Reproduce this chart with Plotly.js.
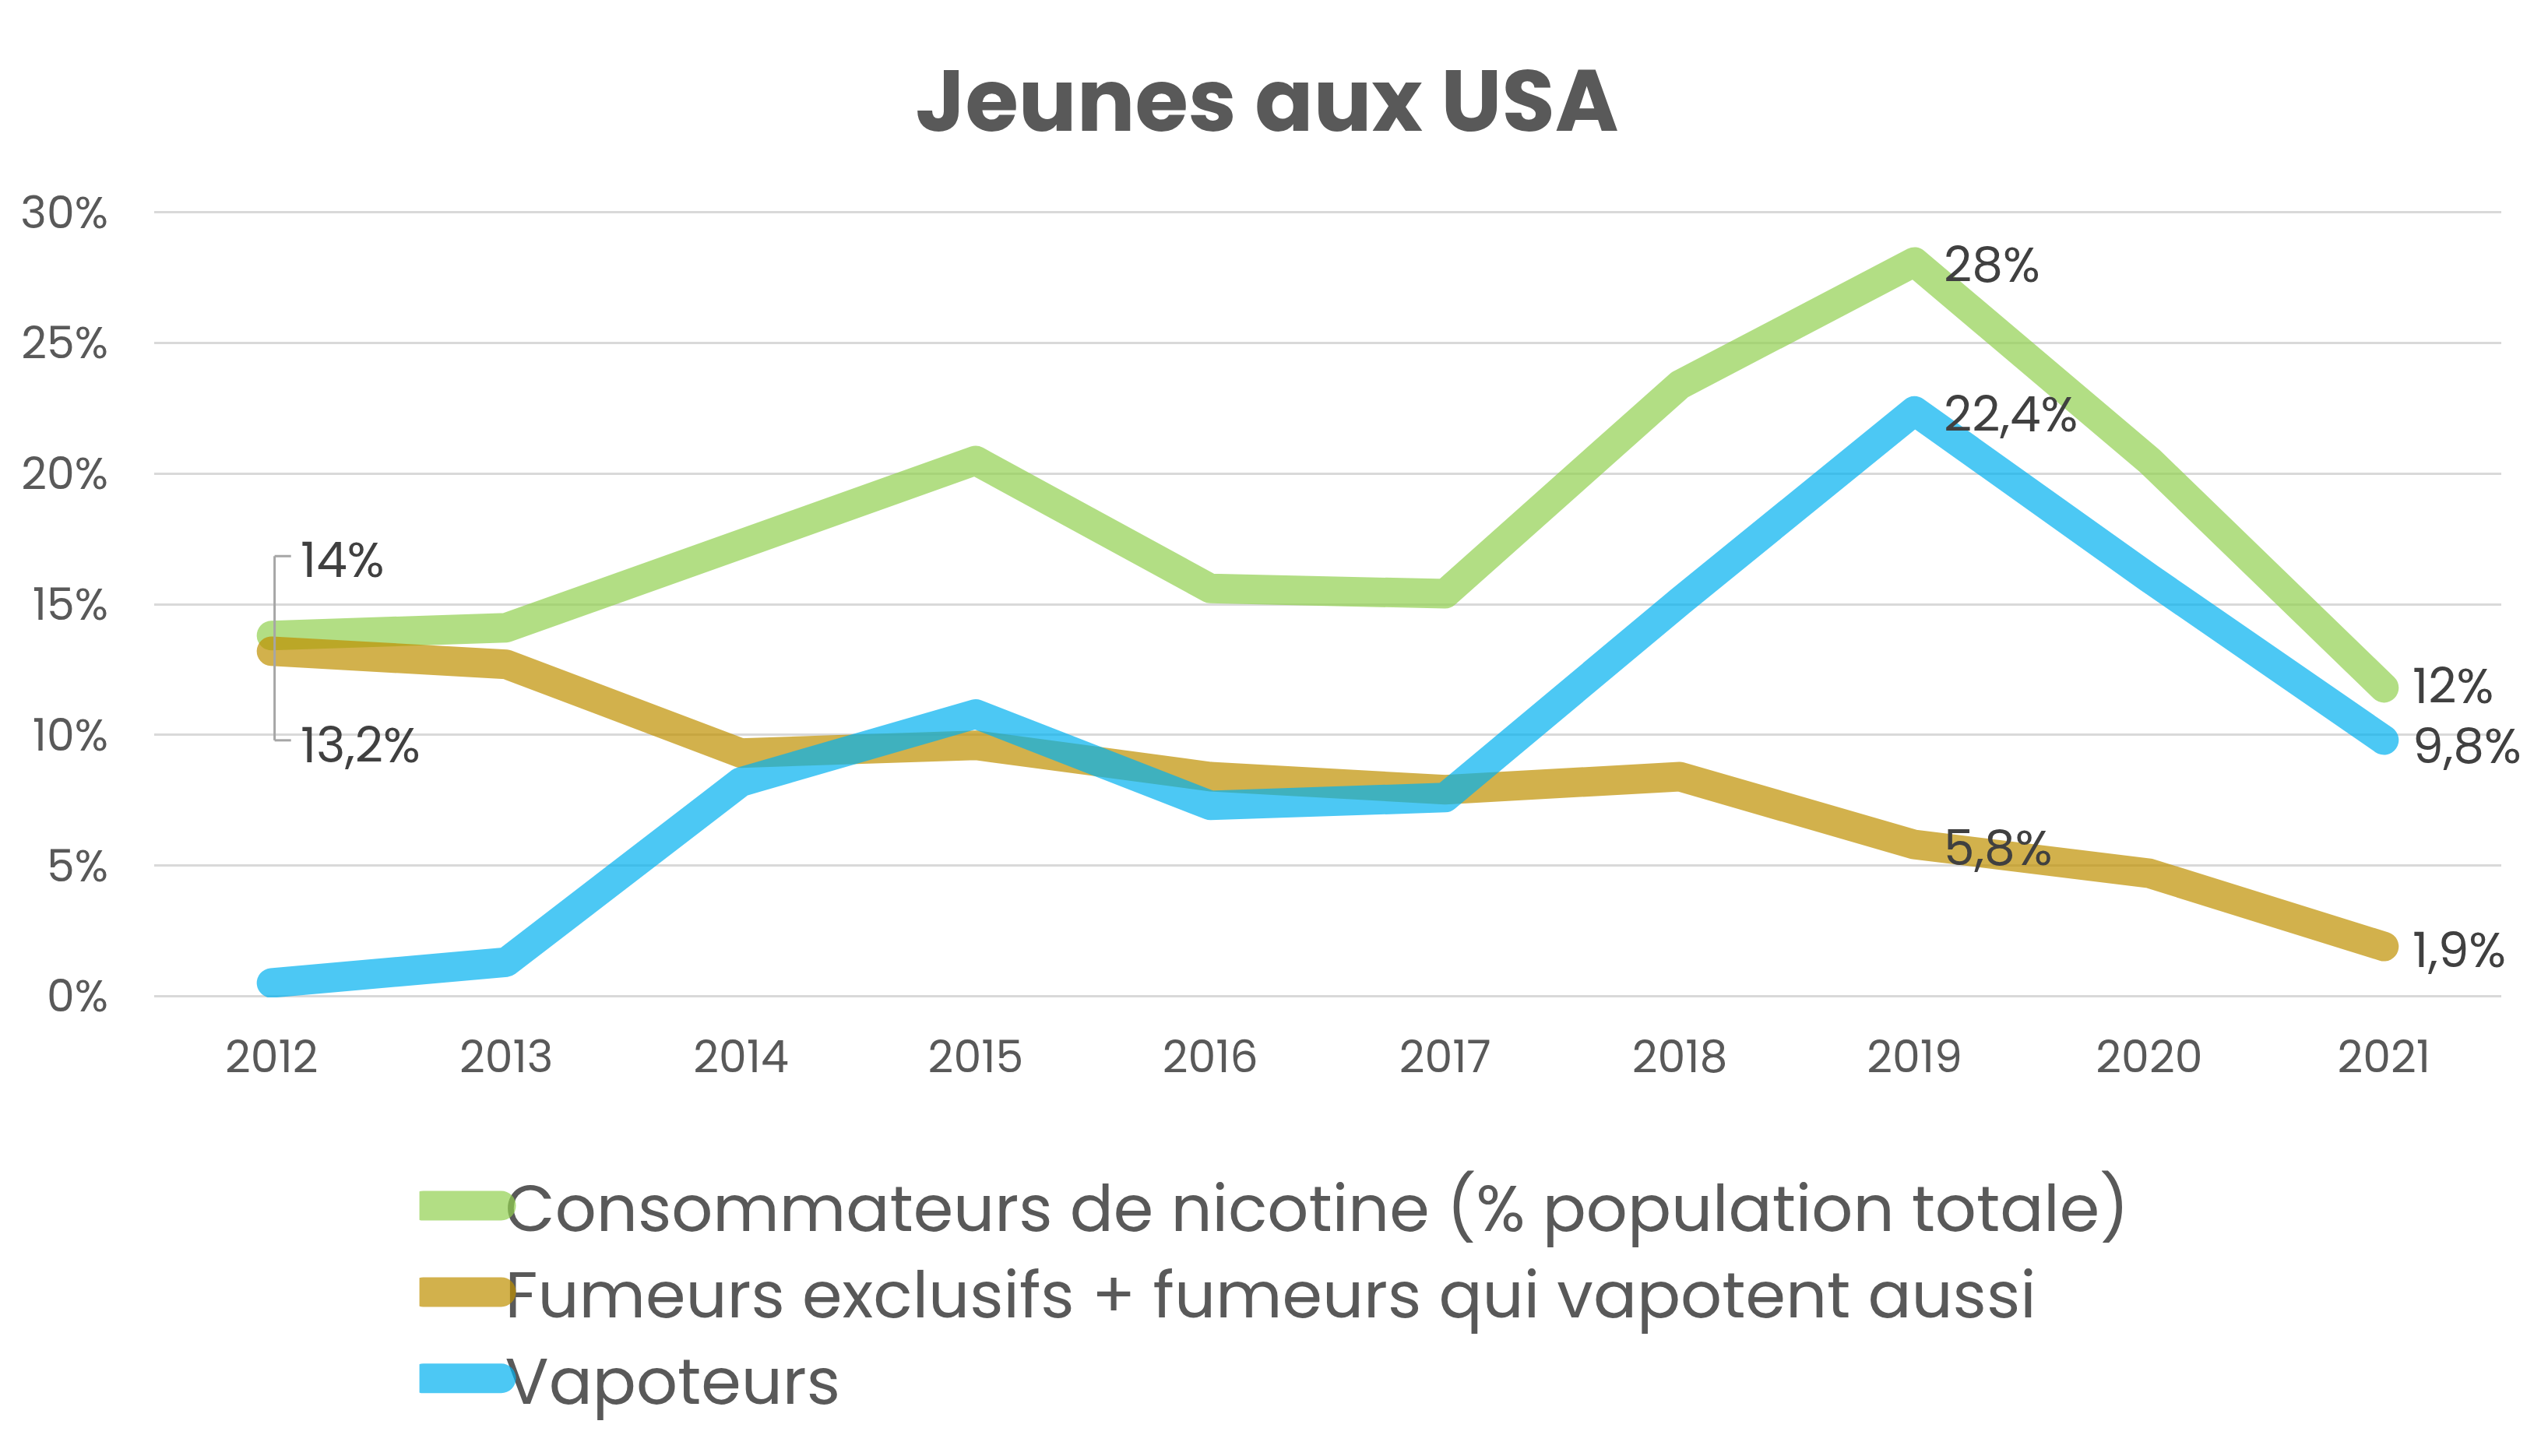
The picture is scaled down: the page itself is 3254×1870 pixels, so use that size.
<!DOCTYPE html>
<html>
<head>
<meta charset="utf-8">
<script src="https://cdn.plot.ly/plotly-3.0.1.min.js"></script>
<style>
  html, body { margin: 0; padding: 0; background: #fff; }
  #myDiv { width: 3254px; height: 1870px; }
</style>
</head>
<body>
<div id="myDiv"></div>
<script>
var years = ['2012', '2013', '2014', '2015', '2016', '2017', '2018', '2019', '2020', '2021'];
var nicotine = [13.8, 14.1, 17.3, 20.5, 15.6, 15.4, 23.4, 28.1, 20.5, 11.8];
var fumeurs = [13.2, 12.7, 9.3, 9.6, 8.4, 7.9, 8.4, 5.8, 4.7, 1.9];
var vapoteurs = [0.5, 1.3, 8.2, 10.8, 7.3, 7.6, 15.1, 22.4, 16.0, 9.8];
var seriesNames = [
  'Consommateurs de nicotine (% population totale)',
  'Fumeurs exclusifs + fumeurs qui vapotent aussi',
  'Vapoteurs'
];
var yTicks = [0, 5, 10, 15, 20, 25, 30];
var yTickText = ['0%', '5%', '10%', '15%', '20%', '25%', '30%'];

// data labels: which series, which year, text
var labelSeries = [0, 1, 0, 2, 1, 0, 2, 1];
var labelYear = ['2012', '2012', '2019', '2019', '2019', '2021', '2021', '2021'];
var labelText = ['14%', '13,2%', '28%', '22,4%', '5,8%', '12%', '9,8%', '1,9%'];

var FONT = 'Poppins, Inter, "Noto Sans", sans-serif';
var colors = ['rgba(146,208,80,0.7)', 'rgba(191,144,0,0.7)', 'rgba(0,176,240,0.7)'];
var allSeries = [nicotine, fumeurs, vapoteurs];

var data = [];
for (let i = 0; i < allSeries.length; i++) {
  data.push({
    x: years,
    y: allSeries[i],
    name: seriesNames[i],
    type: 'scatter',
    mode: 'lines',
    line: {color: colors[i], width: 38},
    hoverinfo: 'skip'
  });
}

var annotations = [];
for (let k = 0; k < labelText.length; k++) {
  let s = allSeries[labelSeries[k]];
  let idx = years.indexOf(labelYear[k]);
  let ys = -4;
  if (labelYear[k] === '2012') {
    ys = labelSeries[k] === 0 ? 97 : -121;
  } else if (labelYear[k] === '2021' && labelSeries[k] === 0) {
    ys = 2;
  } else if (labelYear[k] === '2021' && labelSeries[k] === 2) {
    ys = -8;
  }
  annotations.push({
    x: idx,   // category index
    y: s[idx],
    xref: 'x', yref: 'y',
    text: labelText[k],
    showarrow: false,
    xanchor: 'left',
    yanchor: 'middle',
    xshift: 36,
    yshift: ys,
    borderpad: 0,
    font: {family: FONT, size: 63, color: '#404040'}
  });
}

var bracket = {color: '#a6a6a6', width: 3};
var layout = {
  width: 3254,
  height: 1870,
  paper_bgcolor: '#fff',
  plot_bgcolor: '#fff',
  margin: {l: 198, r: 42, t: 271, b: 589},
  title: {
    text: '<b>Jeunes aux USA</b>',
    font: {family: FONT, size: 111, color: '#595959'},
    x: 0.5, xanchor: 'center',
    y: 0.931, yanchor: 'middle', yref: 'container'
  },
  xaxis: {
    type: 'category',
    range: [-0.5, 9.5],
    showgrid: false,
    showline: false,
    zeroline: false,
    ticks: '',
    ticklabelstandoff: 38,
    tickfont: {family: FONT, size: 57, color: '#595959'}
  },
  yaxis: {
    range: [-0.05, 30.05],
    tickvals: yTicks,
    ticktext: yTickText,
    showgrid: true,
    gridcolor: '#d9d9d9',
    gridwidth: 3,
    zeroline: false,
    showline: false,
    ticks: '',
    ticklabelstandoff: 58,
    tickfont: {family: FONT, size: 57, color: '#595959'}
  },
  showlegend: true,
  legend: {
    orientation: 'v',
    x: 0.113, xanchor: 'left',
    y: -0.205, yanchor: 'top',
    font: {family: FONT, size: 83, color: '#595959'},
    itemwidth: 100,
    bgcolor: 'rgba(0,0,0,0)'
  },
  annotations: annotations,
  shapes: [
    {type: 'line', xref: 'x', yref: 'y', x0: 0.013, x1: 0.013, y0: 9.79, y1: 16.84, line: bracket},
    {type: 'line', xref: 'x', yref: 'y', x0: 0.013, x1: 0.083, y0: 16.84, y1: 16.84, line: bracket},
    {type: 'line', xref: 'x', yref: 'y', x0: 0.013, x1: 0.083, y0: 9.79, y1: 9.79, line: bracket}
  ]
};

function roundLines() {
  document.querySelectorAll('#myDiv .scatterlayer .js-line, #myDiv .legendlines path').forEach(function(p) {
    p.style.strokeLinecap = 'round';
    p.style.strokeLinejoin = 'round';
  });
  document.querySelectorAll('#myDiv .legendlines path').forEach(function(p) {
    p.style.strokeWidth = '38px';
  });
}

Plotly.newPlot('myDiv', data, layout, {staticPlot: true}).then(function(gd) {
  roundLines();
  gd.on('plotly_afterplot', roundLines);
});
</script>
</body>
</html>
